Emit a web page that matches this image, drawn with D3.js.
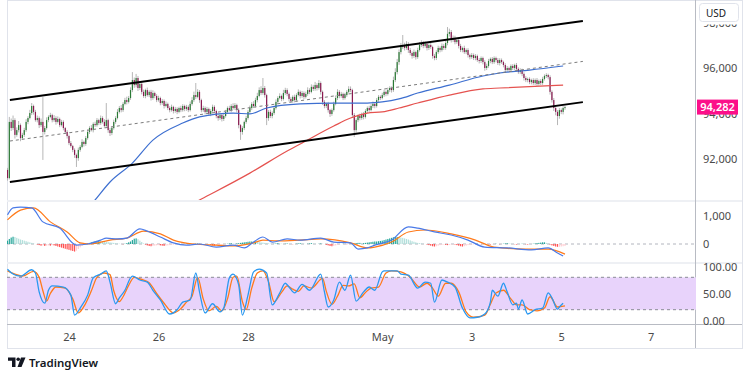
<!DOCTYPE html>
<html lang="en">
<meta charset="UTF-8">
<title>BTCUSD 1h</title>
<script src="https://d3js.org/d3.v7.min.js"></script>
<style>
    body { margin: 0; background: #fff; }
    text { font-family: "Noto Sans", "Open Sans", sans-serif; }
</style>
<body>
<svg id="canvas"></svg>
<script>

// ---------- data (hourly candles) ----------
let firstOpen = 91520
let closes = [
    91160, 93630, 93360, 93710, 93060, 93270, 93490, 92920, 93060, 93270,
    93630, 93800, 94020, 94330, 94070, 93710, 93800, 93490, 93630, 93190,
    93360, 93710, 93850, 93930, 93710, 93800, 93630, 93760, 93490, 93630,
    93360, 93190, 93010, 92700, 92570, 92400, 92180, 92040, 92400, 92530,
    92750, 92660, 92920, 93190, 93360, 93270, 93540, 93490, 93710, 93580,
    93800, 93630, 93450, 93710, 93270, 93140, 93360, 93630, 93800, 94070,
    94240, 94150, 94420, 94590, 94510, 94680, 95030, 95470, 95250, 95560,
    95120, 95300, 94950, 94770, 95030, 94810, 94950, 94680, 94900, 94770,
    94590, 94680, 94460, 94550, 94330, 94420, 94240, 94150, 94290, 94110,
    94200, 94070, 94240, 94150, 94330, 94200, 94290, 94150, 94420, 94590,
    94810, 94730, 94950, 94590, 94150, 94240, 94070, 94200, 93980, 94110,
    94290, 94110, 93890, 93800, 93930, 93760, 93890, 94070, 94240, 94150,
    94330, 94240, 94370, 94150, 93490, 93190, 93360, 93630, 93800, 94070,
    94240, 94420, 94330, 94590, 94770, 95030, 94900, 95120, 94810, 93800,
    94070, 93890, 94020, 94240, 94510, 94680, 94770, 94640, 94900, 95030,
    94860, 94640, 94550, 94730, 94590, 94810, 94950, 94770, 94900, 94730,
    94860, 95030, 94950, 95170, 95080, 95250, 95120, 95340, 94950, 94510,
    94330, 94420, 94150, 93980, 94150, 94420, 94680, 94950, 94770, 94860,
    94680, 94810, 94950, 95080, 95030, 93930, 93270, 93710, 93890, 93800,
    93980, 93850, 94110, 94240, 94150, 94330, 94420, 94330, 94590, 94730,
    94680, 94810, 94950, 94860, 95030, 95120, 95030, 95470, 95820, 96260,
    96700, 96920, 97010, 96880, 97060, 96790, 96660, 96530, 96700, 96480,
    96790, 97010, 97100, 96970, 97060, 96880, 97010, 96920, 96530, 96440,
    96700, 96880, 96790, 96970, 96880, 97100, 97500, 97580, 97230, 97320,
    97140, 97230, 96970, 96790, 96880, 96700, 96790, 96570, 96480, 96570,
    96440, 96530, 96350, 96310, 96440, 96260, 96000, 96090, 96310, 96400,
    96260, 96440, 96350, 96220, 96350, 96260, 96130, 95910, 96000, 95910,
    96090, 96000, 96130, 95960, 95820, 95910, 95740, 95560, 95470, 95520,
    95380, 95470, 95340, 95470, 95300, 95430, 95340, 95520, 95650, 95690,
    95600, 94950, 94590, 94240, 94070, 93890, 94150, 94070, 94240, 94282
]
// wick lengths above the body top / below the body bottom (USD)
let wickUp = [
    90, 220, 150, 200, 80, 120, 180, 70, 90, 100,
    120, 80, 140, 130, 60, 90, 110, 70, 150, 1090,
    90, 120, 70, 100, 60, 130, 80, 110, 60, 90,
    70, 50, 80, 60, 90, 50, 70, 60, 100, 80,
    120, 60, 90, 110, 80, 130, 70, 100, 90, 60,
    110, 80, 120, 750, 60, 90, 70, 100, 80, 120,
    90, 130, 80, 100, 150, 90, 120, 350, 110, 180,
    90, 120, 80, 100, 60, 110, 70, 90, 120, 60,
    80, 100, 60, 90, 70, 110, 60, 80, 100, 50,
    90, 70, 60, 100, 80, 60, 90, 70, 110, 130,
    150, 530, 120, 80, 60, 100, 70, 90, 60, 80,
    100, 70, 60, 90, 80, 60, 110, 90, 70, 100,
    80, 120, 90, 60, 70, 50, 80, 60, 100, 90,
    110, 80, 120, 100, 140, 120, 170, 440, 90, 60,
    80, 100, 70, 90, 110, 80, 120, 60, 140, 100,
    80, 60, 90, 70, 100, 80, 110, 60, 90, 70,
    100, 120, 80, 110, 90, 140, 80, 130, 70, 60,
    80, 60, 90, 50, 70, 100, 110, 120, 80, 90,
    60, 100, 80, 120, 110, 60, 90, 80, 70, 100,
    60, 90, 80, 70, 100, 80, 110, 60, 90, 80,
    70, 100, 90, 60, 110, 80, 70, 150, 170, 140,
    120, 180, 440, 100, 120, 80, 90, 70, 110, 60,
    100, 130, 120, 90, 110, 80, 70, 100, 60, 90,
    80, 100, 70, 110, 90, 120, 300, 150, 90, 110,
    100, 70, 80, 90, 60, 100, 70, 80, 60, 90,
    70, 80, 60, 90, 70, 60, 80, 100, 90, 60,
    80, 70, 60, 90, 80, 70, 60, 80, 90, 60,
    70, 80, 60, 90, 70, 80, 60, 70, 80, 60,
    70, 60, 80, 70, 90, 60, 80, 90, 70, 80,
    60, 80, 70, 90, 100, 80, 90, 70, 80, 60
]
let wickDn = [
    110, 60, 130, 90, 160, 80, 100, 140, 70, 90,
    80, 100, 60, 90, 120, 70, 100, 130, 80, 1230,
    110, 70, 90, 60, 100, 80, 120, 70, 90, 60,
    100, 80, 110, 90, 70, 100, 130, 390, 120, 80,
    60, 110, 80, 70, 90, 60, 100, 80, 70, 90,
    80, 70, 100, 60, 120, 130, 90, 70, 80, 60,
    70, 100, 80, 60, 110, 70, 80, 90, 120, 100,
    130, 90, 110, 80, 100, 70, 90, 110, 80, 100,
    90, 70, 100, 80, 110, 60, 90, 100, 70, 110,
    80, 100, 60, 90, 70, 100, 80, 90, 60, 70,
    80, 90, 60, 120, 100, 80, 110, 70, 90, 100,
    70, 90, 100, 120, 80, 110, 90, 70, 80, 60,
    90, 70, 80, 110, 140, 350, 120, 90, 80, 70,
    60, 90, 80, 70, 100, 60, 90, 80, 110, 310,
    120, 90, 100, 80, 70, 90, 60, 100, 70, 80,
    100, 110, 90, 80, 100, 70, 60, 110, 80, 100,
    70, 80, 100, 60, 90, 80, 110, 70, 120, 130,
    100, 90, 110, 130, 80, 70, 60, 90, 100, 80,
    90, 70, 80, 60, 90, 120, 300, 110, 90, 100,
    80, 110, 70, 90, 80, 60, 90, 100, 70, 80,
    90, 60, 80, 100, 70, 90, 110, 80, 90, 100,
    120, 100, 90, 110, 80, 130, 100, 120, 90, 110,
    80, 70, 90, 100, 80, 110, 90, 80, 120, 100,
    90, 80, 100, 70, 90, 80, 100, 120, 110, 90,
    100, 80, 110, 90, 100, 80, 90, 110, 100, 80,
    90, 100, 80, 110, 90, 100, 120, 90, 80, 100,
    90, 80, 100, 90, 110, 80, 100, 110, 90, 100,
    80, 90, 100, 110, 80, 90, 100, 110, 90, 100,
    90, 100, 80, 90, 100, 80, 90, 80, 70, 90,
    100, 120, 110, 130, 150, 400, 120, 100, 110, 80
]

// moving averages, [candle index, price]
let blueMA = [[42, 89710], [47, 90200], [55, 90990], [67, 91820], [78, 92830], [94, 93580], [103, 93850],
    [121, 94020], [130, 93980], [139, 94240], [157, 94420], [175, 94460], [193, 94460], [201, 94510],
    [210, 94640], [220, 94900], [237, 95250], [255, 95650], [264, 95780], [280, 95910], [298, 96090]]
let redMA = [[95, 89850], [104, 90240], [130, 91380], [150, 92350], [159, 92750], [175, 93450], [184, 93800],
    [193, 94020], [201, 94070], [210, 94240], [220, 94460], [237, 94810], [255, 95080], [264, 95120], [298, 95250]]

// channel drawing, [candle index, price]
let channelUpper = [[1.3, 94590], [308.6, 98070]]
let channelLower = [[1.3, 90990], [308.6, 94500]]
let channelMid = [[1.3, 92790], [308.6, 96290]]

// MACD, [candle index, value]
let macdLine = [[0, 1040], [3, 1290], [7, 1320], [13, 1290], [19, 790], [28, 570], [37, -40], [43, 0], [50, 140],
    [53, 210], [59, 180], [64, 210], [71, 540], [75, 460], [82, 250], [89, 40], [96, -40], [103, 0], [112, -110],
    [121, -40], [127, -140], [132, 70], [137, 250], [142, 70], [150, 180], [157, 140], [168, 210], [175, 70],
    [184, 40], [188, -180], [193, -140], [197, -40], [206, 140], [215, 610], [220, 570], [229, 430], [238, 320],
    [247, 140], [256, -110], [268, -140], [281, -210], [290, -140], [295, -320], [298, -430]]
let signalLine = [[0, 860], [7, 1210], [14, 1290], [23, 790], [32, 430], [39, 40], [44, 0], [55, 140], [64, 210],
    [73, 460], [82, 360], [89, 140], [100, 0], [112, -40], [121, -70], [132, 40], [137, 140], [145, 110],
    [157, 140], [168, 180], [184, 40], [193, -140], [197, -110], [206, 70], [215, 430], [224, 500], [238, 360],
    [251, 140], [261, -110], [278, -180], [290, -180], [299, -360]]
let macdHist = [
    120, 180, 230, 260, 250, 220,
    190, 160, 140, 120, 100, 80, 60, 40,
    20, 0, -20, -40, -60, -50, -70, -60, -50, -60, -40, -50, -70,
    -90, -110, -130, -150, -170, -190, -210, -230, -250, -270, -240,
    -180, -120, -70, -30, 0, 20, 40,
    60, 80, 100, 110, 120, 110, 100, 90, 80, 70, 60, 50, 40, 30, 20, 10,
    0, -10, 10, 30, 60,
    90, 140, 190, 200, 170, 120, 70,
    20, -20, -50, -70, -80, -70, -60, -50, -40, -50, -60, -70, -60, -50, -40, -30, -20, -10,
    0, 10, 0, -10, 10, 20, 10, 0, -10, 0, 10, 20, 10, 0, -10, -20, -10, 0,
    -30, -50, -60, -50, -40, -30, -20,
    -10, 0, 10, 20, 30, 20, 10,
    20, 30, 40, 50, 60, 70, 80, 90, 90, 80, 90, 80, 70, 60, 50, 40, 30, 20,
    10, 0, 10, 20, 30, 20, 10, 0, 10, 20, 10, 0, -10, 0, 10, 20, 30, 20, 10, 0, 10, 20, 30, 20, 10, 0, 10, 20, 10, 0,
    -30, -50, -70, -80, -70, -50, -30, -10,
    0, 10, 0, -10, 0, 10, 0,
    20, 30, 40, 40, 30, 30, 40, 50, 60, 70, 80,
    90, 90, 100, 110, 120, 140, 160,
    180, 200, 220, 240, 250, 250, 240, 230, 220, 200, 180, 160, 130, 100,
    80, 60, 40, 30, 20, 10, 0,
    -20, -40, -60, -80, -90, -80, -60, -40, -30, -20, -30, -40, -30, -20, -10, -20, -40, -60, -80, -90, -80, -60, -40, -30, -20, -10, 0,
    10, 0, -10, 0, 10, 0, -10, -20, -10, 0, 10, 0, -10, 0, 10, 20, 30, 20, 10,
    0, -10, -20, -10, 0, 10, 0, -10, -20, -10, 0, 10, 20, 30, 40, 50, 60,
    60, 40, 20, -20, -50, -70, -90, -100, -100, -90, -80, -70
]

// Stoch RSI, [candle index, value]
let stochK = [[0, 95], [3, 86], [7, 82], [13, 94], [15, 88], [17, 53], [20, 32], [22, 56], [24, 64], [30, 62],
    [34, 47], [36, 10], [39, 23], [43, 47], [46, 79], [50, 86], [53, 92], [55, 71], [58, 31], [60, 42], [63, 56],
    [66, 79], [67, 82], [71, 75], [75, 71], [78, 56], [82, 38], [87, 12], [91, 20], [94, 34], [98, 38], [101, 88],
    [103, 53], [106, 14], [110, 31], [114, 16], [116, 23], [119, 79], [121, 86], [124, 66], [126, 10], [129, 47],
    [132, 90], [135, 95], [139, 88], [142, 29], [146, 51], [149, 69], [151, 62], [154, 51], [158, 67], [162, 56],
    [168, 86], [170, 53], [172, 25], [175, 38], [178, 71], [181, 56], [184, 84], [187, 36], [191, 53], [194, 62],
    [197, 56], [201, 90], [202, 92], [209, 92], [211, 86], [215, 84], [220, 60], [224, 71], [227, 69], [229, 34],
    [233, 75], [236, 71], [240, 62], [244, 23], [248, 5], [252, 6], [256, 12], [259, 34], [260, 56], [263, 45],
    [266, 69], [268, 53], [271, 29], [273, 32], [274, 21], [276, 38], [279, 12], [283, 20], [287, 23], [290, 51],
    [292, 42], [295, 21], [296, 25], [298, 32]]
let stochD = [[0, 92], [4, 86], [8, 82], [14, 91], [17, 80], [19, 55], [21, 36], [23, 50], [26, 62], [31, 60],
    [35, 40], [38, 14], [41, 26], [45, 55], [48, 80], [52, 88], [55, 85], [57, 55], [60, 35], [62, 44], [65, 65],
    [68, 80], [72, 76], [76, 70], [80, 50], [84, 32], [89, 14], [93, 22], [96, 34], [99, 45], [102, 80], [105, 40],
    [108, 18], [112, 26], [115, 18], [118, 40], [121, 80], [123, 82], [126, 35], [128, 20], [131, 60], [134, 88],
    [137, 92], [140, 72], [143, 35], [147, 52], [150, 64], [153, 58], [156, 54], [159, 64], [163, 60], [169, 78],
    [171, 54], [174, 30], [177, 45], [180, 65], [183, 64], [186, 68], [189, 42], [192, 52], [195, 60], [199, 62],
    [203, 88], [206, 92], [211, 90], [216, 80], [221, 62], [225, 69], [228, 60], [231, 45], [235, 69], [238, 69],
    [242, 53], [246, 16], [250, 6], [256, 10], [259, 30], [262, 51], [266, 56], [270, 40], [273, 29], [276, 29],
    [280, 20], [284, 18], [288, 23], [291, 44], [295, 25], [299, 27]]

// axes
let priceTicks = [92000, 94000, 96000, 98000]
let lastPrice = 94282
let macdTicks = [0, 1000]
let stochTicks = [0, 50, 100]
let dateTicks = ['2025-04-24', '2025-04-26', '2025-04-28', '2025-05-01', '2025-05-03', '2025-05-05', '2025-05-07']
let dateLabels = ['24', '26', '28', 'May', '3', '5', '7']

// ---------- layout ----------
let width = 750
let height = 375
let left = 7
let axisX = 696
let right = 742
let mainPane = [0, 200]
let macdPane = [202, 262]
let stochPane = [264, 324]

let canvas = d3.select('#canvas')
canvas.attr('width', width).attr('height', height)

let t0 = Date.UTC(2025, 3, 22, 15)
let timeOf = (i) => new Date(t0 + i * 3600e3)

let xScale = d3.scaleUtc()
    .domain([new Date(Date.UTC(2025, 3, 22, 11)), new Date(Date.UTC(2025, 4, 8, 0))])
    .range([0, 695.5])
let xi = (i) => xScale(timeOf(i))

let yMain = d3.scaleLinear().domain([92000, 96000]).range([159, 68])
let yMacd = d3.scaleLinear().domain([0, 1000]).range([244, 216])
let yStoch = d3.scaleLinear().domain([0, 100]).range([320.5, 266.5])

let defs = canvas.append('defs')
let addClip = (id, pane) => {
    defs.append('clipPath').attr('id', id)
        .append('rect')
        .attr('x', left).attr('y', pane[0])
        .attr('width', axisX - left).attr('height', pane[1] - pane[0])
}
addClip('clipMain', mainPane)
addClip('clipMacd', macdPane)
addClip('clipStoch', stochPane)

// ---------- frame ----------
canvas.append('rect')
    .attr('x', left + 0.5).attr('y', 0.5)
    .attr('width', right - left).attr('height', 348)
    .attr('fill', 'none').attr('stroke', '#e0e3eb')

let separators = [mainPane[1], macdPane[1]]
canvas.selectAll('.sep').data(separators).enter()
    .append('rect').attr('class', 'sep')
    .attr('x', left).attr('y', d => d)
    .attr('width', right - left).attr('height', 2)
    .attr('fill', '#eef0f4')

canvas.append('line')
    .attr('x1', axisX - 0.5).attr('x2', axisX - 0.5)
    .attr('y1', 0).attr('y2', 348)
    .attr('stroke', '#b8bbc3')
canvas.append('line')
    .attr('x1', left).attr('x2', right)
    .attr('y1', stochPane[1] + 0.5).attr('y2', stochPane[1] + 0.5)
    .attr('stroke', '#b8bbc3')

// ---------- main pane ----------
let main = canvas.append('g').attr('clip-path', 'url(#clipMain)')

let lineFrom = (yScale) => d3.line()
    .x(d => xi(d[0]))
    .y(d => yScale(d[1]))

let candles = closes.map((c, i) => {
    let o = i === 0 ? firstOpen : closes[i - 1]
    return {
        i: i, o: o, c: c,
        h: Math.max(o, c) + wickUp[i],
        l: Math.min(o, c) - wickDn[i]
    }
})

main.selectAll('.wick').data(candles).enter()
    .append('line').attr('class', 'wick')
    .attr('x1', d => xi(d.i)).attr('x2', d => xi(d.i))
    .attr('y1', d => yMain(d.h)).attr('y2', d => yMain(d.l))
    .attr('stroke', '#a3a3a3').attr('stroke-width', 0.8)

main.selectAll('.body').data(candles).enter()
    .append('rect').attr('class', 'body')
    .attr('x', d => xi(d.i) - 0.6)
    .attr('width', 1.2)
    .attr('y', d => yMain(Math.max(d.o, d.c)))
    .attr('height', d => Math.max(1, Math.abs(yMain(d.o) - yMain(d.c))))
    .attr('fill', d => d.c >= d.o ? '#2a7a35' : '#8a1a50')

main.append('path').datum(redMA)
    .attr('d', lineFrom(yMain).curve(d3.curveMonotoneX))
    .attr('fill', 'none').attr('stroke', '#e5524f').attr('stroke-width', 1.2)
main.append('path').datum(blueMA)
    .attr('d', lineFrom(yMain).curve(d3.curveMonotoneX))
    .attr('fill', 'none').attr('stroke', '#3d6fd0').attr('stroke-width', 1.2)

main.append('path').datum(channelMid)
    .attr('d', lineFrom(yMain))
    .attr('fill', 'none').attr('stroke', '#7c7c7c')
    .attr('stroke-width', 1).attr('stroke-dasharray', '3,3')
main.selectAll('.chan').data([channelUpper, channelLower]).enter()
    .append('path').attr('class', 'chan')
    .attr('d', lineFrom(yMain))
    .attr('fill', 'none').attr('stroke', '#000').attr('stroke-width', 2)

// price axis
let priceAxis = d3.axisRight(yMain)
    .tickValues(priceTicks)
    .tickFormat(d3.format(','))
    .tickSize(0).tickPadding(7)
let pa = canvas.append('g')
    .attr('transform', 'translate(' + axisX + ',0)')
    .call(priceAxis)
pa.select('.domain').remove()
pa.selectAll('text').attr('font-size', 11).attr('fill', '#4a4a4a').attr('font-family', null)

// USD box (covers most of the top price label, as in the app)
canvas.append('rect')
    .attr('x', 697).attr('y', 1).attr('width', 44).attr('height', 23.5)
    .attr('fill', '#fff')
canvas.append('rect')
    .attr('x', 699.5).attr('y', 3.5).attr('width', 39).attr('height', 18).attr('rx', 3)
    .attr('fill', '#fff').attr('stroke', '#e0e3eb')
canvas.append('text')
    .attr('x', 706).attr('y', 16.5)
    .attr('font-size', 10).attr('fill', '#131722')
    .text('USD')

// last price label
canvas.append('rect')
    .attr('x', 697).attr('y', yMain(lastPrice) - 7.5)
    .attr('width', 41).attr('height', 15)
    .attr('fill', '#fc0f8a')
canvas.append('text')
    .attr('x', 717.5).attr('y', yMain(lastPrice) + 4)
    .attr('text-anchor', 'middle')
    .attr('font-size', 11).attr('font-weight', 600).attr('fill', '#fff')
    .text(d3.format(',')(lastPrice))

// ---------- MACD pane ----------
let macdG = canvas.append('g').attr('clip-path', 'url(#clipMacd)')

macdG.append('line')
    .attr('x1', left).attr('x2', axisX)
    .attr('y1', yMacd(0)).attr('y2', yMacd(0))
    .attr('stroke', '#b2b5be').attr('stroke-dasharray', '3,3')

let histColor = (v, i) => {
    let prev = i > 0 ? macdHist[i - 1] : v
    if (v >= 0) return v >= prev ? '#26a69a' : '#b2dfdb'
    return v < prev ? '#ff5252' : '#ffcdd2'
}
macdG.selectAll('.hist').data(macdHist).enter()
    .append('rect').attr('class', 'hist')
    .attr('x', (d, i) => xi(i) - 0.6)
    .attr('width', 1.2)
    .attr('y', d => Math.min(yMacd(0), yMacd(d)))
    .attr('height', d => Math.abs(yMacd(d) - yMacd(0)))
    .attr('fill', histColor)

macdG.append('path').datum(signalLine)
    .attr('d', lineFrom(yMacd).curve(d3.curveMonotoneX))
    .attr('fill', 'none').attr('stroke', '#ff7a1a').attr('stroke-width', 1.2)
macdG.append('path').datum(macdLine)
    .attr('d', lineFrom(yMacd).curve(d3.curveMonotoneX))
    .attr('fill', 'none').attr('stroke', '#4a7ae8').attr('stroke-width', 1.2)

let macdAxis = d3.axisRight(yMacd)
    .tickValues(macdTicks)
    .tickFormat(d3.format(','))
    .tickSize(0).tickPadding(7)
let ma = canvas.append('g')
    .attr('transform', 'translate(' + axisX + ',0)')
    .call(macdAxis)
ma.select('.domain').remove()
ma.selectAll('text').attr('font-size', 11).attr('fill', '#4a4a4a').attr('font-family', null)

// ---------- Stoch RSI pane ----------
let stochG = canvas.append('g').attr('clip-path', 'url(#clipStoch)')

stochG.append('rect')
    .attr('x', left).attr('width', axisX - left)
    .attr('y', yStoch(80)).attr('height', yStoch(20) - yStoch(80))
    .attr('fill', '#e8d3fb')
stochG.selectAll('.band').data([80, 20]).enter()
    .append('line').attr('class', 'band')
    .attr('x1', left).attr('x2', axisX)
    .attr('y1', d => yStoch(d)).attr('y2', d => yStoch(d))
    .attr('stroke', '#8a8d96').attr('stroke-dasharray', '3,3')

stochG.append('path').datum(stochD)
    .attr('d', lineFrom(yStoch).curve(d3.curveMonotoneX))
    .attr('fill', 'none').attr('stroke', '#ff7a1a').attr('stroke-width', 1.3)
stochG.append('path').datum(stochK)
    .attr('d', lineFrom(yStoch).curve(d3.curveMonotoneX))
    .attr('fill', 'none').attr('stroke', '#2a98f0').attr('stroke-width', 1.3)

let stochAxis = d3.axisRight(yStoch)
    .tickValues(stochTicks)
    .tickFormat(d3.format('.2f'))
    .tickSize(0).tickPadding(7)
let sa = canvas.append('g')
    .attr('transform', 'translate(' + axisX + ',0)')
    .call(stochAxis)
sa.select('.domain').remove()
sa.selectAll('text').attr('font-size', 11).attr('fill', '#4a4a4a').attr('font-family', null)

// ---------- time axis ----------
let timeAxis = d3.axisBottom(xScale)
    .tickValues(dateTicks.map(d => new Date(d + 'T00:00:00Z')))
    .tickFormat((d, i) => dateLabels[i])
    .tickSize(0).tickPadding(9)
let ta = canvas.append('g')
    .attr('transform', 'translate(0,' + stochPane[1] + ')')
    .call(timeAxis)
ta.select('.domain').remove()
ta.selectAll('text').attr('font-size', 11).attr('fill', '#4a4a4a').attr('font-family', null)

// ---------- TradingView mark ----------
let logo = canvas.append('g').attr('fill', '#131722')
logo.append('path').attr('d', 'M8,357.5 H15.5 V367 H12 V360.8 H8 Z')
logo.append('circle').attr('cx', 18.2).attr('cy', 359.3).attr('r', 1.8)
logo.append('path').attr('d', 'M21,357.5 H25.5 L21.5,367 H17.5 Z')
canvas.append('text')
    .attr('x', 29).attr('y', 366.5)
    .attr('font-size', 11.5).attr('font-weight', 600).attr('fill', '#131722')
    .text('TradingView')

</script>
</body>
</html>
